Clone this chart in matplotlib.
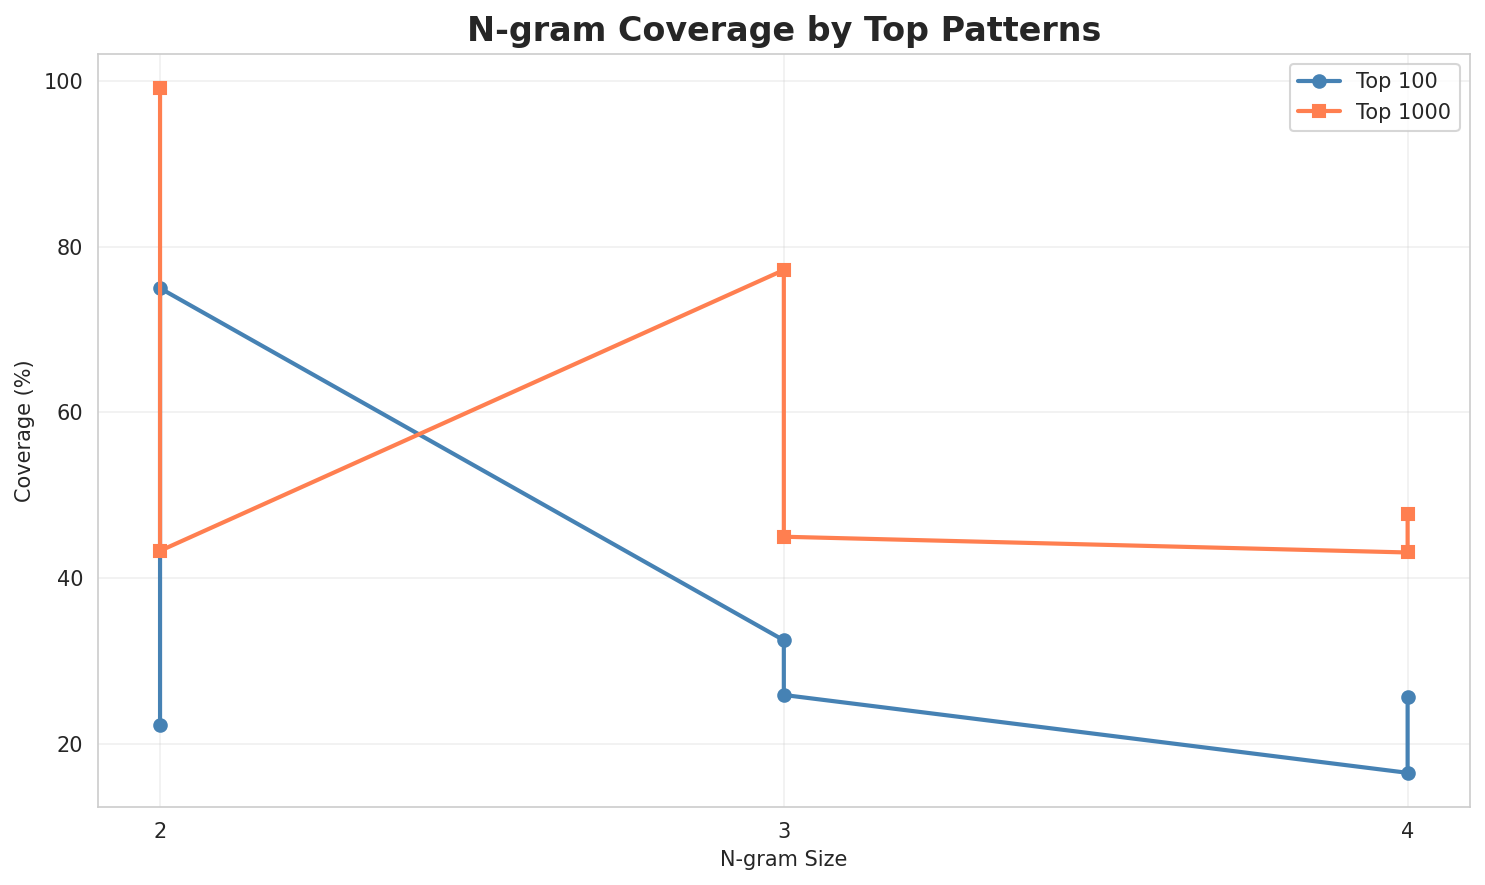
import matplotlib
matplotlib.use("Agg")
import matplotlib.pyplot as plt
import seaborn as sns

sns.set_style("whitegrid")
plt.rcParams['font.family'] = ['DejaVu Sans']

ngram_sizes = [2, 2, 3, 3, 4, 4]
top100 = [22.3, 75.0, 32.5, 25.9, 16.5, 25.7]
top1000 = [99.2, 43.3, 77.2, 45.0, 43.1, 47.7]

fig, ax = plt.subplots(figsize=(10, 6), dpi=150)
ax.plot(ngram_sizes, top100, marker='o', color='steelblue', linewidth=2, markersize=6, label='Top 100')
ax.plot(ngram_sizes, top1000, marker='s', color='coral', linewidth=2, markersize=6, label='Top 1000')
ax.set_xticks([2, 3, 4])
ax.set_xlabel('N-gram Size', fontsize=10)
ax.set_ylabel('Coverage (%)', fontsize=10)
ax.set_title('N-gram Coverage by Top Patterns', fontsize=16, fontweight='bold')
ax.tick_params(labelsize=10)
ax.legend(fontsize=10, loc='upper right')
ax.grid(True, alpha=0.3)
fig.tight_layout()
fig.savefig('out.png', dpi=150, bbox_inches='tight')
